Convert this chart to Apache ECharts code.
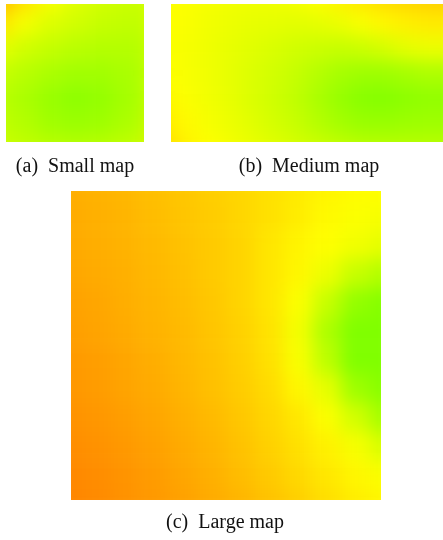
<!DOCTYPE html>
<html>
<head>
<meta charset="utf-8">
<script src="https://cdn.jsdelivr.net/npm/echarts@6/dist/echarts.min.js"></script>
<style>
html,body{margin:0;padding:0;background:#fff;overflow:hidden;}
#wrap{position:relative;width:443px;height:540px;overflow:hidden;}
#maps{position:absolute;left:-24px;top:-24px;width:500px;height:590px;filter:blur(9px);}
#labels{position:absolute;left:0;top:0;width:443px;height:540px;}
</style>
</head>
<body>
<div id="wrap"><div id="maps"></div><div id="labels"></div></div>
<script>
// Values: 0 = orange, 0.5 = yellow, 1 = green
var captions = ['(a)  Small map', '(b)  Medium map', '(c)  Large map'];

var smallMap = [
  [0.22,0.38,0.52,0.62,0.67,0.70,0.72],
  [0.40,0.54,0.63,0.68,0.72,0.74,0.75],
  [0.60,0.68,0.73,0.77,0.79,0.79,0.78],
  [0.72,0.78,0.83,0.87,0.87,0.84,0.80],
  [0.77,0.83,0.90,0.95,0.92,0.86,0.80],
  [0.75,0.80,0.87,0.90,0.88,0.83,0.77],
  [0.70,0.74,0.77,0.79,0.78,0.75,0.71]
];

var mediumMap = [
  [0.50,0.51,0.53,0.55,0.56,0.56,0.54,0.50,0.45,0.40,0.36,0.33,0.31,0.30],
  [0.50,0.52,0.55,0.57,0.59,0.60,0.61,0.60,0.57,0.52,0.47,0.44,0.42,0.42],
  [0.51,0.53,0.56,0.59,0.62,0.65,0.68,0.70,0.72,0.70,0.66,0.60,0.57,0.57],
  [0.50,0.53,0.56,0.60,0.64,0.68,0.73,0.79,0.85,0.88,0.88,0.85,0.82,0.82],
  [0.47,0.51,0.55,0.59,0.64,0.69,0.75,0.83,0.91,0.97,0.98,0.95,0.93,0.93],
  [0.42,0.48,0.53,0.57,0.62,0.67,0.72,0.79,0.86,0.90,0.91,0.89,0.88,0.88],
  [0.36,0.45,0.50,0.54,0.58,0.62,0.66,0.70,0.74,0.77,0.78,0.78,0.78,0.78]
];

var largeMap = [
  [0.18,0.20,0.22,0.25,0.28,0.31,0.34,0.38,0.42,0.46,0.49,0.50],
  [0.17,0.19,0.21,0.24,0.27,0.30,0.34,0.38,0.43,0.48,0.51,0.53],
  [0.16,0.18,0.20,0.23,0.26,0.29,0.33,0.40,0.46,0.50,0.55,0.60],
  [0.15,0.17,0.19,0.22,0.25,0.29,0.33,0.40,0.47,0.57,0.72,0.80],
  [0.13,0.15,0.18,0.21,0.24,0.28,0.33,0.40,0.51,0.72,0.92,0.98],
  [0.12,0.14,0.17,0.20,0.23,0.27,0.32,0.39,0.54,0.82,1.00,1.00],
  [0.10,0.12,0.15,0.18,0.22,0.26,0.31,0.38,0.52,0.76,1.00,1.00],
  [0.09,0.11,0.14,0.17,0.21,0.25,0.30,0.36,0.47,0.60,0.88,0.97],
  [0.07,0.09,0.12,0.15,0.19,0.23,0.28,0.34,0.41,0.51,0.68,0.86],
  [0.05,0.07,0.10,0.13,0.17,0.21,0.26,0.32,0.38,0.45,0.53,0.66],
  [0.03,0.05,0.08,0.11,0.15,0.19,0.24,0.29,0.35,0.41,0.47,0.52],
  [0.02,0.04,0.07,0.10,0.13,0.17,0.21,0.26,0.31,0.37,0.43,0.47]
];

var maps = [smallMap, mediumMap, largeMap];
var boxes = [
  {left: 6, top: 4, width: 138, height: 138},
  {left: 171, top: 4, width: 272, height: 138},
  {left: 71, top: 191, width: 310, height: 309}
];
var captionPos = [[75, 167], [309, 167], [225, 523]];

var OFF = 24, PAD = 18;

function idx(n){ var a=[]; for(var i=0;i<n;i++) a.push(i); return a; }
function toData(m){
  var d=[];
  for(var r=0;r<m.length;r++) for(var c=0;c<m[r].length;c++) d.push([c,r,m[r][c]]);
  return d;
}

// clip the blurred layer to the exact map rectangles
var clip = boxes.map(function(b){
  var x0=b.left+OFF, y0=b.top+OFF, x1=x0+b.width, y1=y0+b.height;
  return 'M'+x0+' '+y0+' H'+x1+' V'+y1+' H'+x0+' Z';
}).join(' ');
var mapsEl = document.getElementById('maps');
mapsEl.style.clipPath = 'path("'+clip+'")';

var xAxes=[], yAxes=[], series=[], graphics=[];
maps.forEach(function(m,i){
  xAxes.push({type:'category', gridIndex:i, data:idx(m[0].length), show:false, boundaryGap:true});
  yAxes.push({type:'category', gridIndex:i, data:idx(m.length), show:false, inverse:true, boundaryGap:true});
  series.push({
    type:'heatmap', xAxisIndex:i, yAxisIndex:i, data:toData(m),
    itemStyle:{borderWidth:0}, emphasis:{disabled:true}, silent:true, progressive:0
  });
  graphics.push({
    type:'text', x:captionPos[i][0], y:captionPos[i][1], silent:true,
    style:{text:captions[i], fontSize:20, fontFamily:'"Liberation Serif", "DejaVu Serif", serif',
      fill:'#111', align:'center', verticalAlign:'middle'}
  });
});

var mapChart = echarts.init(mapsEl, null, {renderer:'canvas'});
mapChart.setOption({
  animation:false,
  grid: boxes.map(function(b){
    return {left:b.left+OFF-PAD, top:b.top+OFF-PAD, width:b.width+2*PAD, height:b.height+2*PAD, containLabel:false};
  }),
  xAxis:xAxes, yAxis:yAxes,
  visualMap:{type:'continuous', min:0, max:1, show:false, seriesIndex:[0,1,2],
    inRange:{color:['#ff8000','#ffff00','#80ff00']}},
  series:series
});

var labelChart = echarts.init(document.getElementById('labels'), null, {renderer:'canvas'});
labelChart.setOption({
  animation:false,
  graphic:graphics
});
</script>
</body>
</html>
